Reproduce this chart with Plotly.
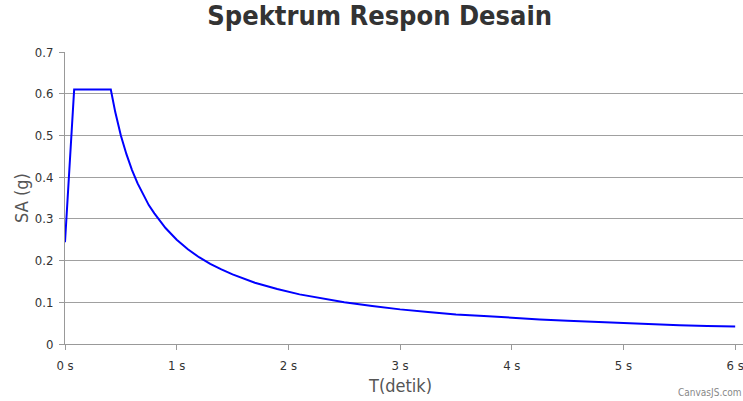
import plotly.graph_objects as go

# Values (period T in seconds, spectral acceleration SA in g)
T_values = [0.0, 0.02, 0.04, 0.06, 0.082, 0.15, 0.25, 0.35, 0.41,
            0.45, 0.50, 0.55, 0.60, 0.65, 0.70, 0.75, 0.80, 0.90, 1.00,
            1.10, 1.20, 1.30, 1.40, 1.50, 1.70, 1.90, 2.10, 2.30, 2.50,
            2.75, 3.00, 3.25, 3.50, 3.75, 4.00, 4.25, 4.50, 4.75, 5.00,
            5.25, 5.50, 5.75, 6.00]
SA_values = [0.244, 0.333, 0.423, 0.512, 0.61, 0.61, 0.61, 0.61, 0.61,
             0.556, 0.500, 0.455, 0.417, 0.385, 0.357, 0.333, 0.313, 0.278, 0.250,
             0.227, 0.208, 0.192, 0.179, 0.167, 0.147, 0.132, 0.119, 0.109, 0.100,
             0.091, 0.083, 0.077, 0.071, 0.067, 0.0625, 0.059, 0.056, 0.053, 0.050,
             0.048, 0.045, 0.043, 0.042]

x_tick_values = [0, 1, 2, 3, 4, 5, 6]
x_tick_labels = ["0 s", "1 s", "2 s", "3 s", "4 s", "5 s", "6 s"]
y_tick_values = [0, 0.1, 0.2, 0.3, 0.4, 0.5, 0.6, 0.7]
y_tick_labels = ["0", "0.1", "0.2", "0.3", "0.4", "0.5", "0.6", "0.7"]

fig = go.Figure()
fig.add_trace(go.Scatter(
    x=T_values, y=SA_values, mode="lines",
    line=dict(color="#0000ff", width=2),
    hoverinfo="x+y", showlegend=False,
))

cond = "DejaVu Sans Condensed, Liberation Sans Narrow, DejaVu Sans, sans-serif"
axis_font = dict(family=cond, size=13, color="#333333")

fig.update_layout(
    width=743, height=401,
    margin=dict(l=65, r=0, t=52, b=57),
    paper_bgcolor="white", plot_bgcolor="white",
    title=dict(text="Spektrum Respon Desain", x=0.511, xanchor="center",
               xref="container", yref="container",
               y=0.985, yanchor="top",
               font=dict(family=cond, size=27, color="#333333", weight="bold")),
    xaxis=dict(range=[0, 6.07], tickvals=x_tick_values, ticktext=x_tick_labels,
               showgrid=False, zeroline=False, automargin=False,
               ticklabeloverflow="allow", ticklabelstandoff=4,
               showline=True, linecolor="#999999", linewidth=1,
               ticks="outside", ticklen=5, tickcolor="#999999",
               tickfont=axis_font),
    yaxis=dict(range=[0, 0.7], tickvals=y_tick_values, ticktext=y_tick_labels,
               showgrid=True, gridcolor="#a0a0a0", gridwidth=1,
               zeroline=False, automargin=False, ticklabelstandoff=3,
               showline=True, linecolor="#999999", linewidth=1,
               ticks="outside", ticklen=5, tickcolor="#999999",
               tickfont=axis_font),
    annotations=[
        dict(text="T(detik)", xref="paper", yref="paper",
             x=0.494, y=-0.1, xanchor="center", yanchor="top", showarrow=False,
             font=dict(family=cond, size=18, color="#555555")),
        dict(text="SA (g)", xref="paper", yref="paper", textangle=-90,
             x=-0.065, y=0.5, xanchor="center", yanchor="middle", showarrow=False,
             font=dict(family=cond, size=18, color="#555555")),
        dict(text="CanvasJS.com", xref="paper", yref="paper",
             x=1.0, y=-0.14, xanchor="right", yanchor="top",
             showarrow=False,
             font=dict(family=cond, size=10, color="#888888")),
    ],
)

fig.write_html("out.html", config={"displayModeBar": False},
               post_script="document.body.style.margin='0';document.body.style.overflow='hidden';")
